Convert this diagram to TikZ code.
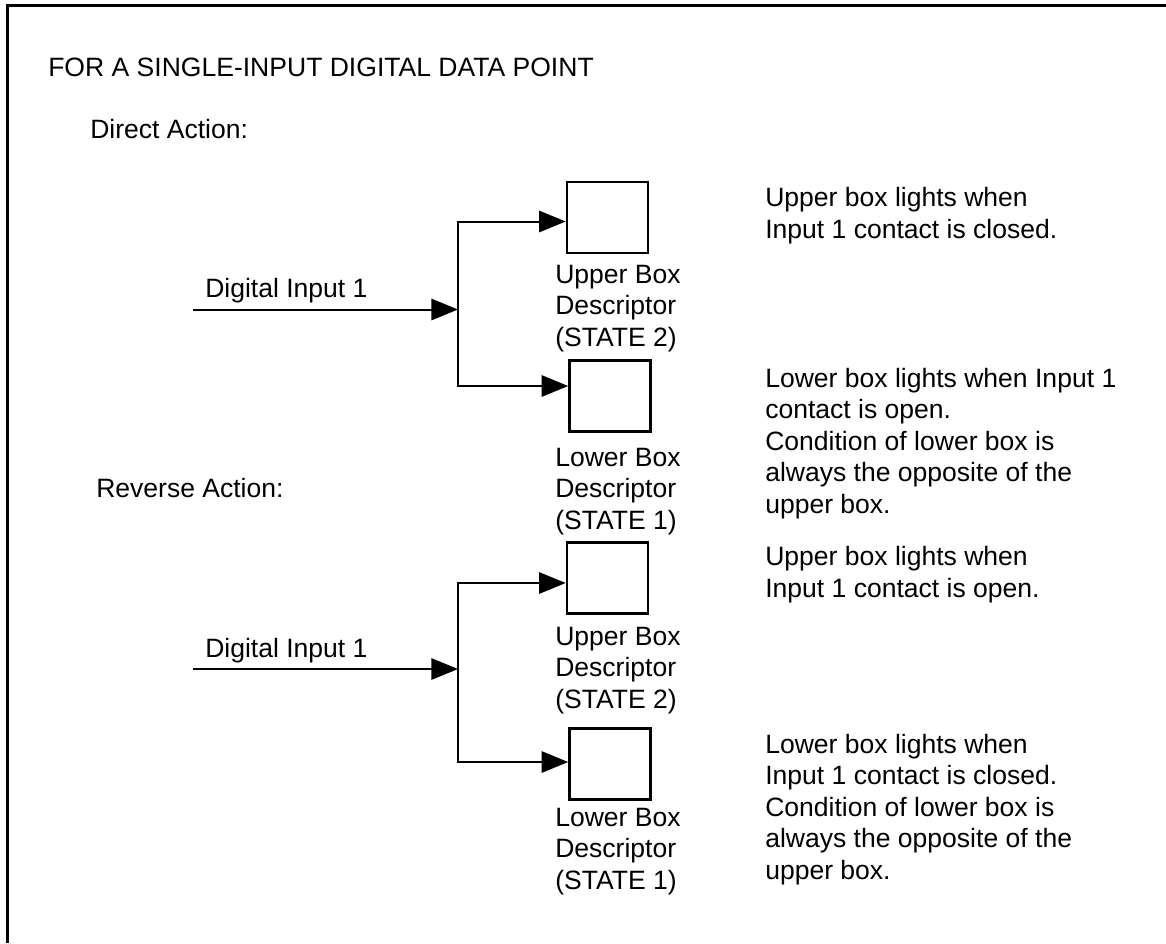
\documentclass[tikz,border=0pt]{standalone}
\usepackage{fontspec}
\setmainfont{Liberation Sans}
\usetikzlibrary{positioning, arrows.meta}

\begin{document}
\begin{tikzpicture}[x=0.75pt,y=0.75pt,yscale=-1,xscale=1,
  every node/.style={font=\fontsize{19.9}{23.6}\selectfont},
  txt/.style={anchor=base west, inner sep=0pt, align=left},
  lampbox/.style={draw, line width=1.9pt, minimum width=60.75pt, minimum height=53.5pt, inner sep=0pt},
  flow/.style={line width=1.5pt, -{Triangle[length=20pt,width=16pt]}}]
\useasboundingbox (0,0) rectangle (1166,943);

%Frame
\draw [line width=2.25pt] (7,943) -- (7,5) -- (1166,5);

% Text Node
\node [txt] (title) at (48,76) {FOR A SINGLE-INPUT DIGITAL DATA POINT};
% Text Node
\node [txt] (direct) at (90,138) {Direct Action:};
% Text Node
\node [txt] (reverse) at (96,497) {Reverse Action:};

%Direct action boxes
\node [lampbox] (ub1) at (607.5,217.5) {};
\node [lampbox] (lb1) at (610,396) {};
\coordinate (in1) at (193,309.5);
\coordinate (j1) at (458,309.5);
\draw [flow] (in1) -- (j1);
\draw [flow] (j1) |- ([yshift=3pt]ub1.west);
\draw [flow] (j1) |- ([yshift=-7.5pt]lb1.west);

%Reverse action boxes
\node [lampbox] (ub2) at (607.5,578) {};
\node [lampbox] (lb2) at (610,764) {};
\coordinate (in2) at (193,669);
\coordinate (j2) at (458,669);
\draw [flow] (in2) -- (j2);
\draw [flow] (j2) |- ([yshift=3.75pt]ub2.west);
\draw [flow] (j2) |- ([yshift=-1.5pt]lb2.west);

% Text Node (anchored at the last line)
\node [txt] (din1) at (205,297) {Digital Input 1};
% Text Node
\node [txt] (din2) at (205,657) {Digital Input 1};
% Text Node
\node [txt] (ut1) at (555,346) {Upper Box\\Descriptor\\(STATE 2)};
% Text Node
\node [txt] (lt1) at (555,529) {Lower Box\\Descriptor\\(STATE 1)};
% Text Node
\node [txt] (ut2) at (555,708) {Upper Box\\Descriptor\\(STATE 2)};
% Text Node
\node [txt] (lt2) at (555,889) {Lower Box\\Descriptor\\(STATE 1)};

% Text Node
\node [txt] (note1) at (765,238) {Upper box lights when\\Input 1 contact is closed.};
% Text Node
\node [txt] (note2) at (765,513) {Lower box lights when Input 1\\contact is open.\\Condition of lower box is\\always the opposite of the\\upper box.};
% Text Node
\node [txt] (note3) at (765,597) {Upper box lights when\\Input 1 contact is open.};
% Text Node
\node [txt] (note4) at (765,879) {Lower box lights when\\Input 1 contact is closed.\\Condition of lower box is\\always the opposite of the\\upper box.};

\end{tikzpicture}
\end{document}
